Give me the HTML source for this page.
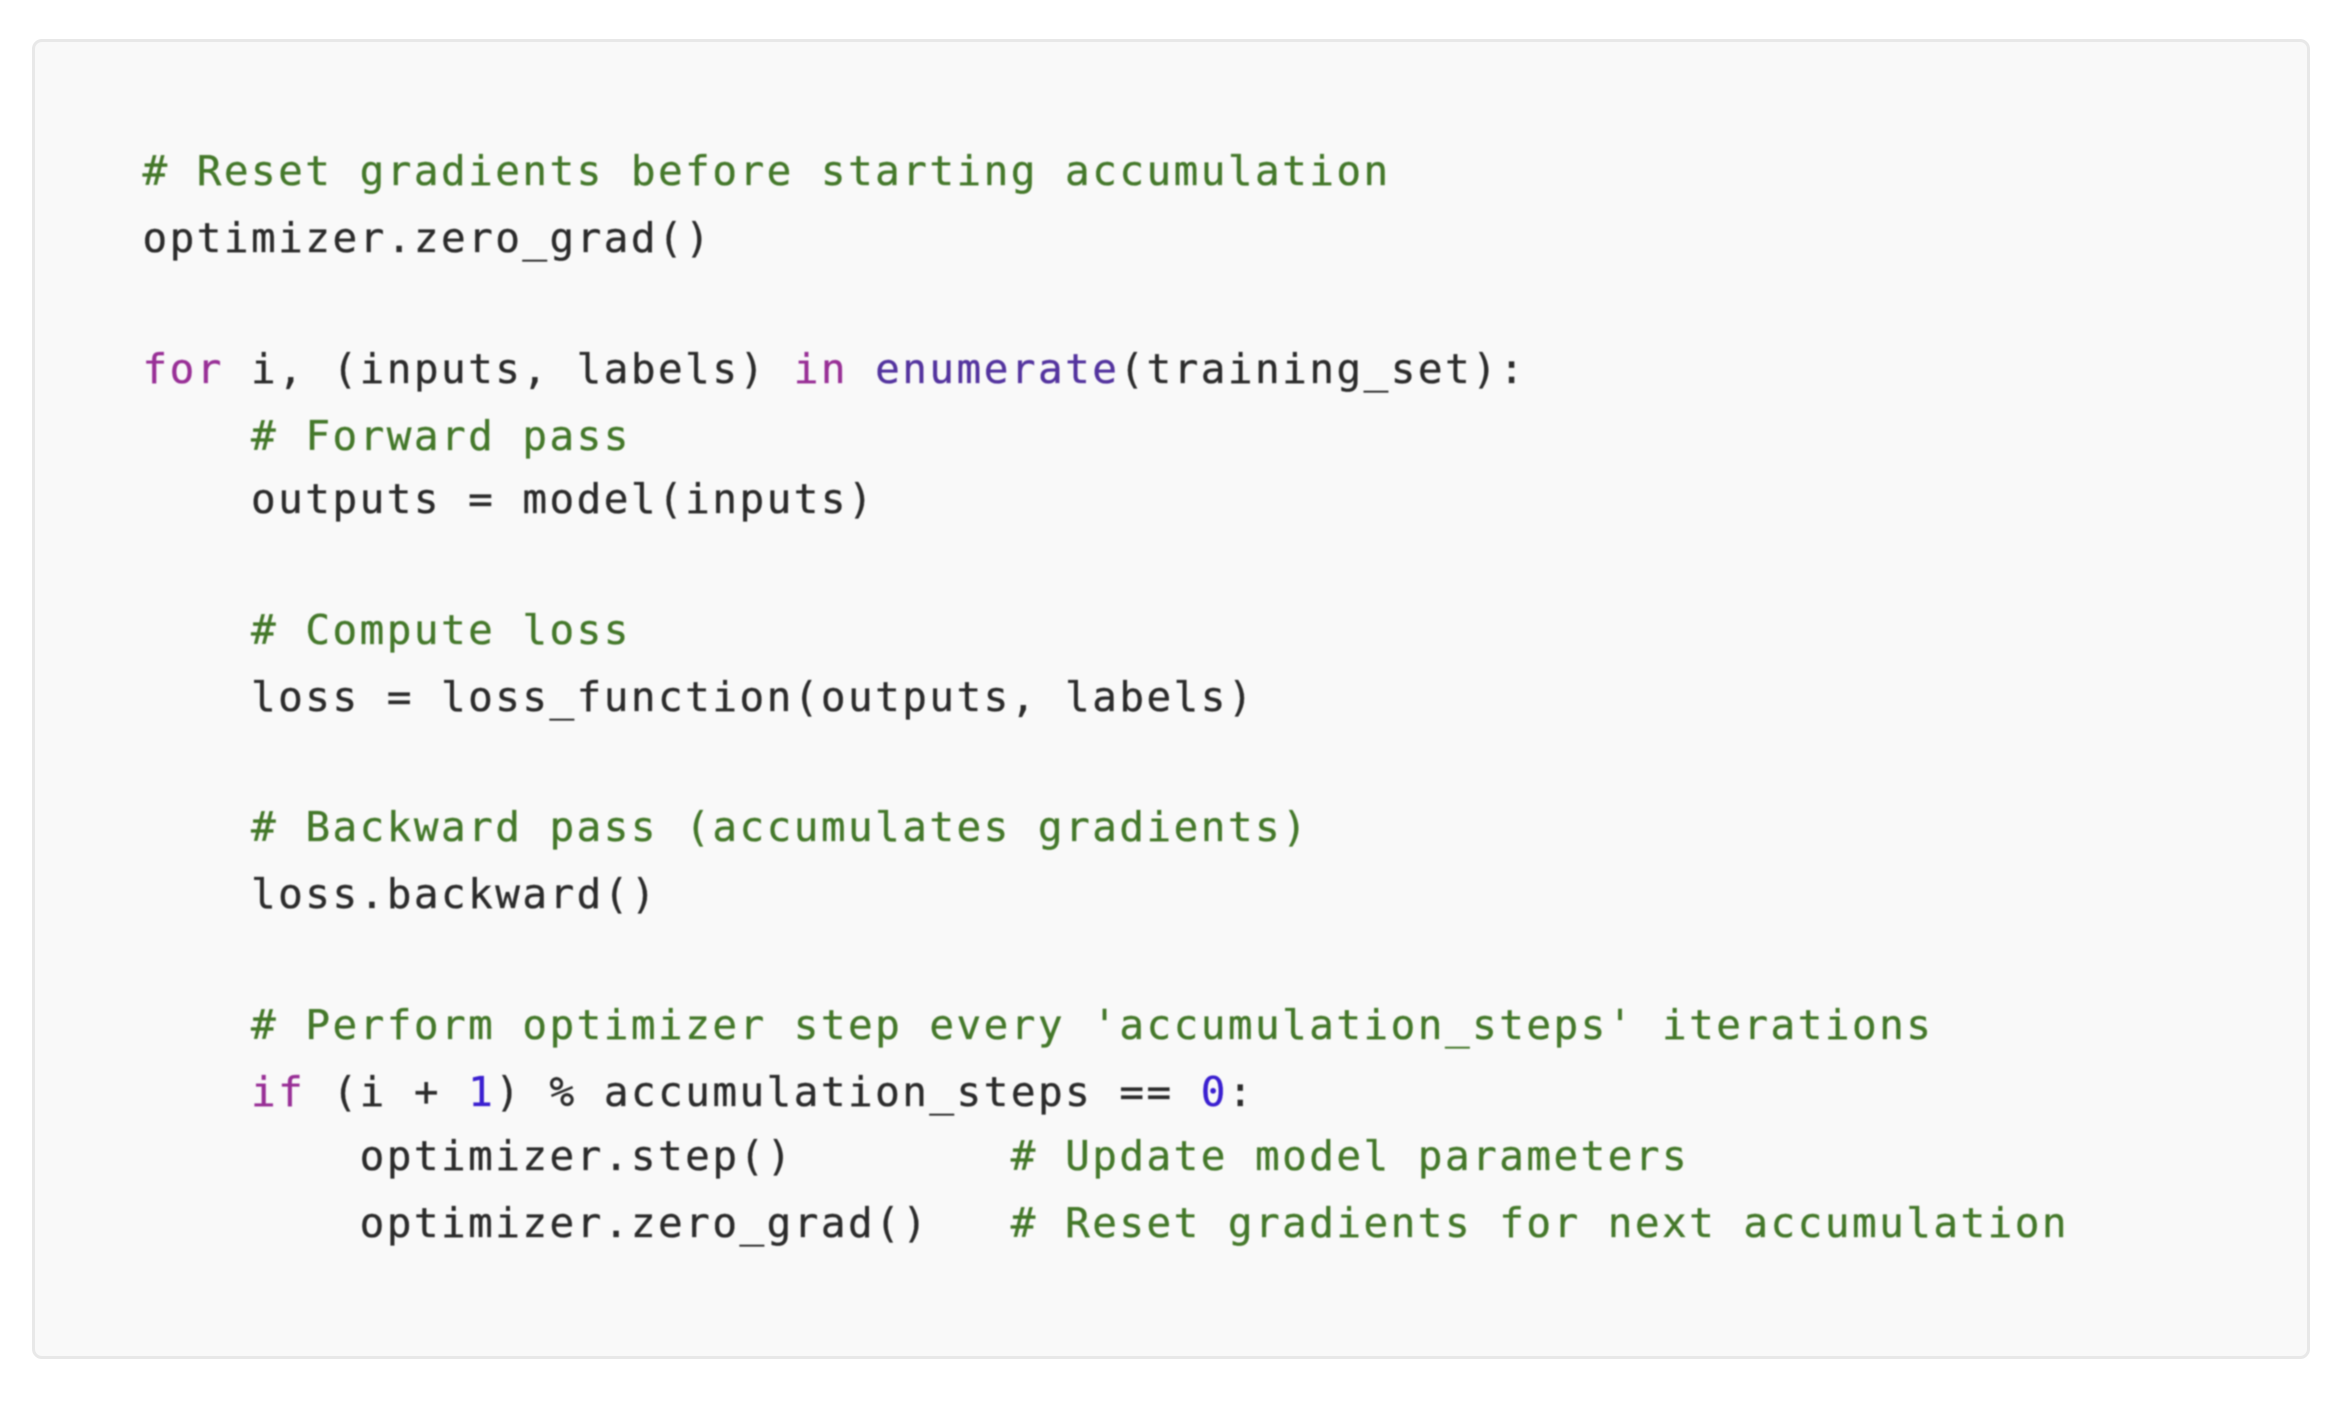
<!DOCTYPE html>
<html><head><meta charset="utf-8"><style>
html,body{margin:0;padding:0;background:#fff;width:2340px;height:1404px;overflow:hidden}
.box{position:absolute;left:32px;top:39px;width:2272px;height:1314px;background:#f9f9f9;border:3px solid #e8e8e8;border-radius:10px}
pre{position:absolute;left:142.5px;top:140px;margin:0;font-family:"DejaVu Sans Mono","Liberation Mono",monospace;font-size:41px;line-height:65.6px;letter-spacing:2.45px;color:#2b2b2b;filter:blur(.7px);-webkit-text-stroke:.35px currentColor}
pre span.l{position:relative}
.c{color:#44782a}.k{color:#982f96}.b{color:#53339e}.n{color:#3a1fd0}
</style></head><body>
<div class="box"></div>
<pre><span class="l" style="top:-1.5px"><span class="c"># Reset gradients before starting accumulation</span></span>
optimizer.zero_grad()

<span class="k">for</span> i, (inputs, labels) <span class="k">in</span> <span class="b">enumerate</span>(training_set):
<span class="l" style="top:1.5px">    <span class="c"># Forward pass</span></span>
<span class="l" style="top:-1px">    outputs = model(inputs)</span>

<span class="l" style="top:-1px">    <span class="c"># Compute loss</span></span>
    loss = loss_function(outputs, labels)

<span class="l" style="top:-1px">    <span class="c"># Backward pass (accumulates gradients)</span></span>
    loss.backward()

    <span class="c"># Perform optimizer step every 'accumulation_steps' iterations</span>
<span class="l" style="top:1.5px">    <span class="k">if</span> (i + <span class="n">1</span>) % accumulation_steps == <span class="n">0</span>:</span>
        optimizer.step()        <span class="c"># Update model parameters</span>
<span class="l" style="top:1px">        optimizer.zero_grad()   <span class="c"># Reset gradients for next accumulation</span></span></pre>
</body></html>
